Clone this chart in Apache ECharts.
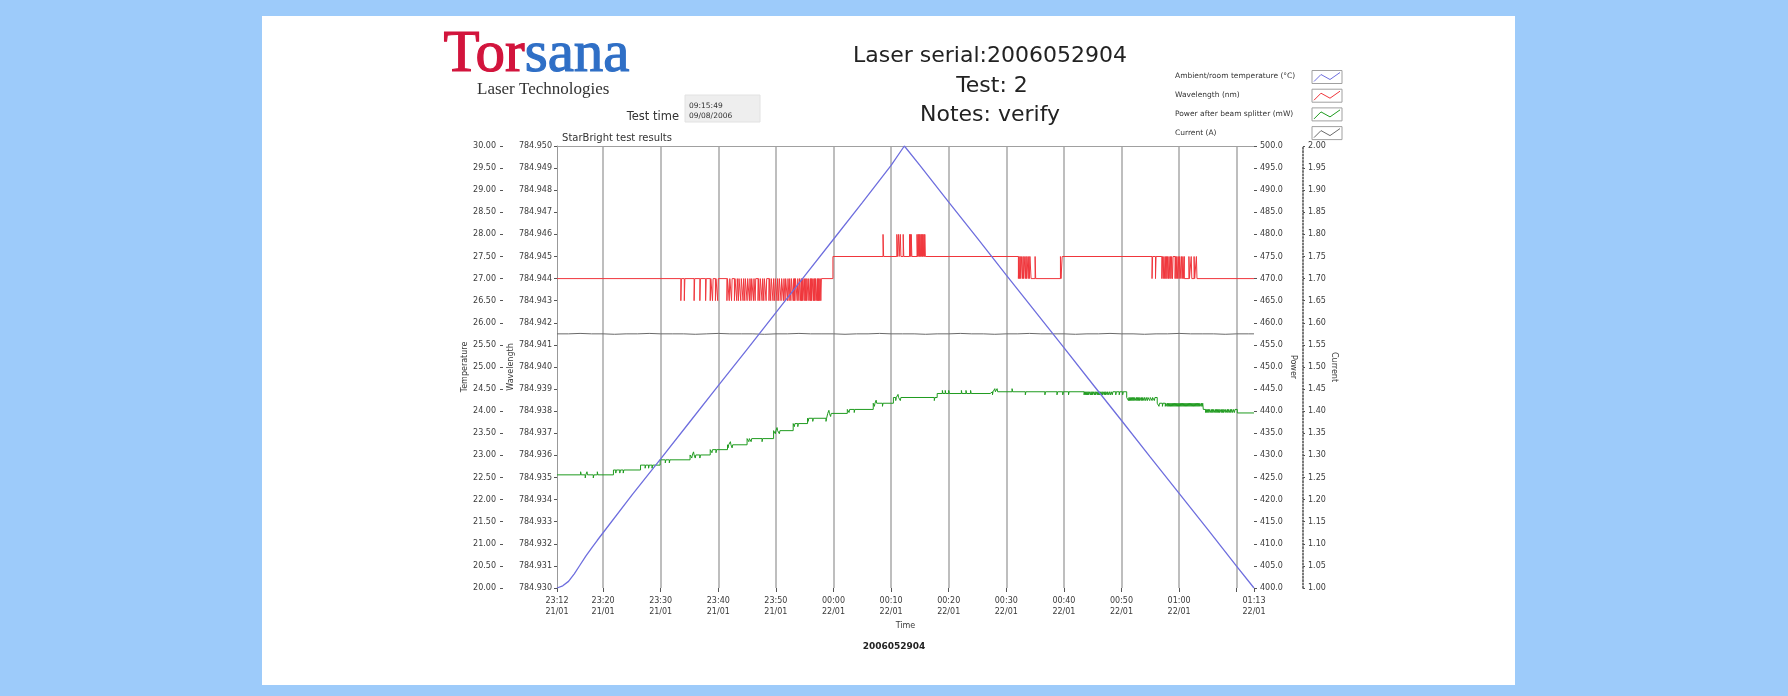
<!DOCTYPE html>
<html>
<head>
<meta charset="utf-8">
<title>StarBright test results</title>
<script src="https://cdn.jsdelivr.net/npm/echarts@6/dist/echarts.min.js"></script>
<style>
  html, body { margin: 0; padding: 0; background: #9dcbfa; }
  #chart { width: 1788px; height: 696px; }
</style>
</head>
<body>
<div id="chart"></div>
<script>
// time is kept as minutes after 23:00 on 21/01
var tickMinutes  = [12, 20, 30, 40, 50, 60, 70, 80, 90, 100, 110, 120, 130, 133];
var labelMinutes = [12, 20, 30, 40, 50, 60, 70, 80, 90, 100, 110, 120, 133];
var tickLabels   = ['23:12\n21/01', '23:20\n21/01', '23:30\n21/01', '23:40\n21/01', '23:50\n21/01',
                    '00:00\n22/01', '00:10\n22/01', '00:20\n22/01', '00:30\n22/01', '00:40\n22/01',
                    '00:50\n22/01', '01:00\n22/01', '01:13\n22/01'];
var gridMinutes  = [20, 30, 40, 50, 60, 70, 80, 90, 100, 110, 120, 130];

var seriesNames  = ['Ambient/room temperature (°C)', 'Wavelength (nm)', 'Power after beam splitter (mW)', 'Current (A)'];
var seriesColors = ['#6e6ede', '#f0363c', '#1f9b1f', '#6a6a6a'];

// ambient temperature
var tempTimes  = [12, 13, 14, 15, 16, 17, 18, 19, 20, 25, 30, 35, 40, 45, 50, 55, 60, 65, 70, 72.3,
                  75, 80, 85, 90, 95, 100, 105, 110, 115, 120, 125, 130, 133];
var tempValues = [20.00, 20.05, 20.15, 20.32, 20.52, 20.72, 20.90, 21.08, 21.25, 22.10, 22.92, 23.75, 24.58,
                  25.40, 26.23, 27.06, 27.89, 28.72, 29.56, 30.00, 29.56, 28.73, 27.91, 27.08, 26.26, 25.44,
                  24.61, 23.79, 22.96, 22.14, 21.32, 20.49, 20.00];

// wavelength: level changes plus one-sample glitches (one count = 0.001 nm)
var wlLevelTimes  = [12, 59.9, 94.3, 99.7, 120.9];
var wlLevelValues = [784.944, 784.945, 784.944, 784.945, 784.944];
var wlDips  = [33.5, 34.1, 35.8, 36.8, 37.8, 38.6, 39.0, 39.5, 39.9, 41.5, 41.9, 42.3, 42.8, 43.2, 43.5, 43.9,
               44.3, 44.6, 45.0, 45.4, 45.7, 46.1, 46.4, 46.9, 47.2, 47.6, 47.9, 48.3, 48.8, 49.1, 49.5, 49.8,
               50.2, 50.5, 50.9, 51.3, 51.6, 52.0, 52.3, 52.6, 53.0, 53.15, 53.3, 53.7, 54.0, 54.3, 54.45, 54.6,
               54.9, 55.1, 55.3, 55.6, 55.9, 56.05, 56.2, 56.5, 56.65, 56.8, 57.1, 57.25, 57.4, 57.6, 57.8,
               92.1, 92.3, 92.5, 92.8, 93.0, 93.3, 93.5, 93.8, 94.0,
               115.3, 115.9, 117.0, 117.25, 117.5, 117.7, 117.9, 118.15, 118.4, 118.6, 118.85,
               119.3, 119.5, 119.75, 120.0, 120.3, 120.55, 120.8];
var wlPeaks = [68.6, 71.0, 71.3, 71.6, 72.1, 73.2, 73.35, 73.5, 74.5, 74.7, 74.85, 75.0, 75.2, 75.35, 75.5,
               75.7, 75.85, 95.0, 99.4, 121.7, 122.1, 122.6, 123.0];

// power after beam splitter
var pwLevelTimes  = [12, 21.8, 26.5, 29.9, 35.1, 38.6, 41.6, 45.0, 49.6, 53.0, 55.5, 59.0, 62.4, 66.9, 70.4,
                     78.0, 87.2, 110.9, 116.2, 124.2, 130.1];
var pwLevelValues = [425.6, 426.7, 427.8, 429.0, 430.1, 431.3, 432.4, 433.8, 435.6, 437.2, 438.4, 439.5,
                     440.4, 441.8, 443.1, 444.0, 444.4, 443.1, 441.8, 440.4, 439.6];
var pwUps   = [16.1, 17.2, 19.0, 35.7, 42.1, 50.2, 59.2, 67.4, 71.2, 78.9, 79.4, 80.0, 82.2, 83.0, 83.8,
               88.0, 88.4, 91.0];
var pwDowns = [16.9, 18.3, 22.2, 22.9, 23.5, 27.3, 27.9, 28.5, 30.8, 31.5, 35.4, 36.0, 36.8, 38.9, 39.6,
               41.7, 42.4, 45.3, 45.7, 47.6, 49.9, 50.6, 53.2, 53.8, 55.6, 56.4, 58.7, 59.5, 62.7, 63.6,
               67.1, 68.5, 70.8, 71.6, 77.5, 87.6, 93.3, 96.7, 98.8, 99.8, 100.8,
               103.5, 103.7, 103.9, 104.1, 104.3, 104.6, 104.8, 105.0, 105.3, 105.5, 105.8, 106.0, 106.2,
               106.5, 106.7, 107.0, 107.2, 107.5, 107.8, 108.1, 108.4, 109.0, 109.6, 110.2,
               111.2, 111.4, 111.6, 111.8, 112.0, 112.2, 112.5, 112.7, 112.9, 113.1, 113.4, 113.6, 113.9,
               114.2, 114.5, 114.9, 115.3, 115.7, 116.5, 117.1, 117.6,
               117.9, 118.1, 118.3, 118.5, 118.7, 118.9, 119.1, 119.3, 119.5, 119.7, 119.9, 120.1, 120.3,
               120.5, 120.7, 120.9, 121.1, 121.3, 121.5, 121.7, 121.9, 122.1, 122.3, 122.5, 122.7, 122.9,
               123.1, 123.3, 123.5, 123.8, 124.0,
               124.6, 124.8, 125.0, 125.2, 125.5, 125.7, 125.9, 126.2, 126.4, 126.6, 126.8, 127.0, 127.3,
               127.5, 127.7, 128.0, 128.3, 128.5, 128.8, 129.0, 129.3, 129.6];

// laser current, sampled every 2 minutes from 23:12
var curValues = [1.575, 1.575, 1.576, 1.575, 1.575, 1.574, 1.575, 1.575, 1.576, 1.575, 1.575, 1.575, 1.574,
                 1.575, 1.576, 1.575, 1.575, 1.575, 1.574, 1.575, 1.575, 1.576, 1.575, 1.575, 1.575, 1.574,
                 1.575, 1.575, 1.576, 1.575, 1.575, 1.575, 1.574, 1.575, 1.575, 1.576, 1.575, 1.575, 1.574,
                 1.575, 1.575, 1.576, 1.575, 1.575, 1.575, 1.574, 1.575, 1.575, 1.576, 1.575, 1.575, 1.574,
                 1.575, 1.575, 1.576, 1.575, 1.575, 1.575, 1.574, 1.575, 1.575, 1.575];

function zip(xs, ys) {
  return xs.map(function (x, i) { return [x, ys[i]]; });
}

// turns level changes + short glitches into a drawable step path
function buildSteps(levelTimes, levelValues, ups, downs, delta, width, endTime) {
  var events = [];
  levelTimes.forEach(function (t, i) { if (i > 0) events.push({ t: t, level: levelValues[i] }); });
  ups.forEach(function (t) { events.push({ t: t, d: delta }); });
  downs.forEach(function (t) { events.push({ t: t, d: -delta }); });
  events.sort(function (a, b) { return a.t - b.t; });
  var cur = levelValues[0];
  var out = [[levelTimes[0], cur]];
  events.forEach(function (e) {
    if (e.level !== undefined) {
      out.push([e.t, cur], [e.t, e.level]);
      cur = e.level;
    } else {
      var g = cur + e.d;
      out.push([e.t, cur], [e.t, g], [e.t + width, g], [e.t + width, cur]);
    }
  });
  out.push([endTime, cur]);
  return out;
}

var curTimes = curValues.map(function (v, i) { return Math.min(12 + i * 2, 133); });

var mycharts = echarts.init(document.getElementById('chart'));

var axisFont = { fontFamily: 'DejaVu Sans', fontSize: 8, color: '#3a3a3a' };
var nameFont = { fontFamily: 'DejaVu Sans', fontSize: 8, color: '#3a3a3a' };

var legendGraphics = [];
seriesNames.forEach(function (name, i) {
  var y = 77.5 + i * 18.7;
  legendGraphics.push({
    type: 'text', left: 1175, top: y - 5,
    style: { text: name, fontFamily: 'DejaVu Sans', fontSize: 7.5, fill: '#333' }
  });
  legendGraphics.push({
    type: 'rect', shape: { x: 1312, y: y - 7, width: 30, height: 13 },
    style: { fill: '#fff', stroke: '#a0a0a0', lineWidth: 1 }
  });
  legendGraphics.push({
    type: 'polyline',
    shape: { points: [[1314, y + 4], [1321, y - 3], [1330, y + 2], [1340, y - 5]] },
    style: { stroke: seriesColors[i], lineWidth: 1, fill: null }
  });
});

var option = {
  backgroundColor: '#9dcbfa',
  animation: false,
  textStyle: { fontFamily: 'DejaVu Sans' },
  grid: { left: 557, right: 534, top: 146, bottom: 108, containLabel: false },
  graphic: [
    { type: 'rect', z: -10, shape: { x: 262, y: 16, width: 1253, height: 669 }, style: { fill: '#ffffff' } },
    {
      type: 'text', left: 443, top: 25,
      style: {
        text: '{r|Tor}{b|sana}',
        rich: {
          r: { fontFamily: 'Liberation Serif', fontSize: 59, fill: '#d2143c', stroke: '#d2143c', lineWidth: 1.2 },
          b: { fontFamily: 'Liberation Serif', fontSize: 59, fill: '#2f6fc6', stroke: '#2f6fc6', lineWidth: 1.2 }
        }
      }
    },
    { type: 'text', left: 477, top: 81, style: { text: 'Laser Technologies', fontFamily: 'Liberation Serif', fontSize: 17, fill: '#333' } },
    { type: 'text', x: 679, y: 117, style: { text: 'Test time', fontFamily: 'DejaVu Sans', fontSize: 11.5, fill: '#333', align: 'right', verticalAlign: 'middle' } },
    { type: 'rect', shape: { x: 685, y: 95, width: 75, height: 27 }, style: { fill: '#eeeeee', stroke: '#e2e2e2' } },
    { type: 'text', x: 689, y: 106, style: { text: '09:15:49', fontFamily: 'DejaVu Sans', fontSize: 7.5, fill: '#333', verticalAlign: 'middle' } },
    { type: 'text', x: 689, y: 116.5, style: { text: '09/08/2006', fontFamily: 'DejaVu Sans', fontSize: 7.5, fill: '#333', verticalAlign: 'middle' } },
    { type: 'text', x: 617, y: 138, style: { text: 'StarBright test results', fontFamily: 'DejaVu Sans', fontSize: 10, fill: '#333', align: 'center', verticalAlign: 'middle' } },
    { type: 'text', x: 990, y: 56, style: { text: 'Laser serial:2006052904', fontFamily: 'DejaVu Sans', fontSize: 22, fill: '#222', align: 'center', verticalAlign: 'middle' } },
    { type: 'text', x: 992, y: 86, style: { text: 'Test: 2', fontFamily: 'DejaVu Sans', fontSize: 22, fill: '#222', align: 'center', verticalAlign: 'middle' } },
    { type: 'text', x: 990, y: 115, style: { text: 'Notes: verify', fontFamily: 'DejaVu Sans', fontSize: 22, fill: '#222', align: 'center', verticalAlign: 'middle' } },
    { type: 'text', x: 894, y: 647, style: { text: '2006052904', fontFamily: 'DejaVu Sans', fontSize: 9, fontWeight: 'bold', fill: '#222', align: 'center', verticalAlign: 'middle' } }
  ].concat(legendGraphics),
  xAxis: [
    {
      type: 'value', position: 'bottom', min: 12, max: 133,
      axisLine: { show: false },
      axisTick: { show: true, customValues: tickMinutes, length: 4, lineStyle: { color: '#555' } },
      axisLabel: {
        customValues: labelMinutes, margin: 7, lineHeight: 11,
        fontFamily: 'DejaVu Sans', fontSize: 8, color: '#3a3a3a',
        formatter: function (v) { return tickLabels[labelMinutes.indexOf(Math.round(v))] || ''; }
      },
      splitLine: { show: false },
      name: 'Time', nameLocation: 'middle', nameGap: 33, nameTextStyle: nameFont
    },
    {
      type: 'value', position: 'top', min: 12, max: 133,
      axisLine: { show: true, lineStyle: { color: '#a0a0a0', width: 1 } },
      axisTick: { show: false, customValues: gridMinutes },
      axisLabel: { show: false },
      splitLine: { show: true, lineStyle: { color: '#a8a8a8', width: 1.5 } }
    }
  ],
  yAxis: [
    {
      type: 'value', position: 'left', offset: 54, min: 20, max: 30, interval: 0.5,
      axisLine: { show: false },
      axisTick: { show: true, length: 3, lineStyle: { color: '#555' } },
      axisLabel: Object.assign({ margin: 7, formatter: function (v) { return v.toFixed(2); } }, axisFont),
      splitLine: { show: false },
      name: 'Temperature', nameLocation: 'middle', nameRotate: 90, nameGap: 34, nameTextStyle: nameFont
    },
    {
      type: 'value', position: 'left', offset: 0, min: 784.930, max: 784.950, interval: 0.001,
      axisLine: { show: true, lineStyle: { color: '#999', width: 1 } },
      axisTick: { show: true, length: 3, lineStyle: { color: '#555' } },
      axisLabel: Object.assign({ margin: 5, formatter: function (v) { return v.toFixed(3); } }, axisFont),
      splitLine: { show: false },
      name: 'Wavelength', nameLocation: 'middle', nameRotate: 90, nameGap: 40, nameTextStyle: nameFont
    },
    {
      type: 'value', position: 'right', offset: 0, min: 400, max: 500, interval: 5,
      axisLine: { show: false },
      axisTick: { show: true, length: 3, lineStyle: { color: '#555' } },
      axisLabel: Object.assign({ margin: 6, formatter: function (v) { return v.toFixed(1); } }, axisFont),
      splitLine: { show: false },
      name: 'Power', nameLocation: 'middle', nameRotate: -90, nameGap: 35, nameTextStyle: nameFont
    },
    {
      type: 'value', position: 'right', offset: 49, min: 1, max: 2, interval: 0.05,
      axisLine: { show: true, lineStyle: { color: '#555', width: 1.6, type: [1.5, 1.8] } },
      axisTick: { show: true, length: 2, lineStyle: { color: '#555' } },
      axisLabel: Object.assign({ margin: 5, formatter: function (v) { return v.toFixed(2); } }, axisFont),
      splitLine: { show: false },
      name: 'Current', nameLocation: 'middle', nameRotate: -90, nameGap: 25, nameTextStyle: nameFont
    }
  ],
  series: [
    {
      name: seriesNames[3], type: 'line', xAxisIndex: 0, yAxisIndex: 3, showSymbol: false,
      lineStyle: { color: seriesColors[3], width: 1 }, itemStyle: { color: seriesColors[3] },
      data: zip(curTimes, curValues)
    },
    {
      name: seriesNames[2], type: 'line', xAxisIndex: 0, yAxisIndex: 2, showSymbol: false,
      lineStyle: { color: seriesColors[2], width: 1 }, itemStyle: { color: seriesColors[2] },
      data: buildSteps(pwLevelTimes, pwLevelValues, pwUps, pwDowns, 0.7, 0.1, 133)
    },
    {
      name: seriesNames[1], type: 'line', xAxisIndex: 0, yAxisIndex: 1, showSymbol: false,
      lineStyle: { color: seriesColors[1], width: 1 }, itemStyle: { color: seriesColors[1] },
      data: buildSteps(wlLevelTimes, wlLevelValues, wlPeaks, wlDips, 0.001, 0.1, 133)
    },
    {
      name: seriesNames[0], type: 'line', xAxisIndex: 0, yAxisIndex: 0, showSymbol: false,
      lineStyle: { color: seriesColors[0], width: 1.3 }, itemStyle: { color: seriesColors[0] },
      data: zip(tempTimes, tempValues)
    }
  ]
};
mycharts.setOption(option);
</script>
</body>
</html>
